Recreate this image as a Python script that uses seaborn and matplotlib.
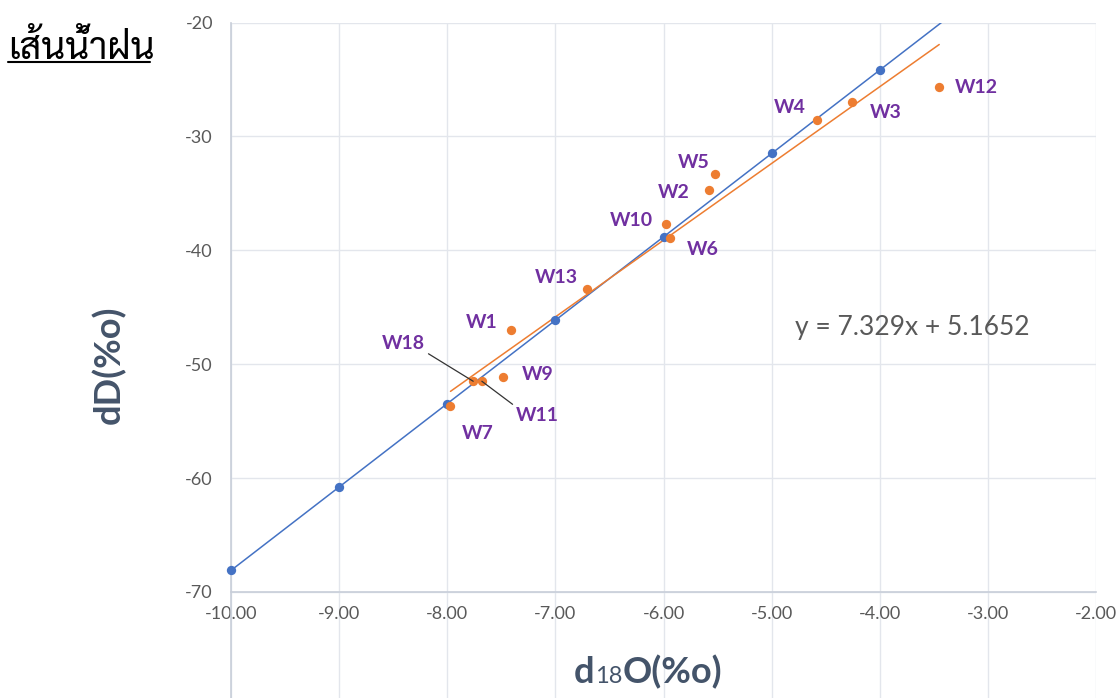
import numpy as np
import pandas as pd
import matplotlib
matplotlib.use("Agg")
import matplotlib.pyplot as plt
import seaborn as sns
from matplotlib import font_manager
from matplotlib.ft2font import FT2Font
from matplotlib.lines import Line2D
from matplotlib.offsetbox import TextArea, HPacker, AnnotationBbox

# ---------------- data ----------------
lmwl_x = [-10, -9, -8, -7, -6, -5, -4]
lmwl_y = [-68.1, -60.8, -53.5, -46.1, -38.8, -31.5, -24.2]

sample_names = ["W1", "W2", "W3", "W4", "W5", "W6", "W7", "W9", "W10", "W11", "W12", "W13", "W18"]
sample_x = [-7.41, -5.58, -4.26, -4.58, -5.52, -5.94, -7.97, -7.48, -5.98, -7.68, -3.45, -6.71, -7.76]
sample_y = [-47.0, -34.7, -27.0, -28.6, -33.3, -38.9, -53.7, -51.1, -37.7, -51.5, -25.7, -43.4, -51.5]

x_ticks = [-10, -9, -8, -7, -6, -5, -4, -3, -2]
y_ticks = [-70, -60, -50, -40, -30, -20]

equation = "y = 7.329x + 5.1652"
title = "เส้นน้ำฝน"

BLUE = "#4472C4"
ORANGE = "#ED7D31"
PURPLE = "#7030A0"
TICK = "#595959"
AXT = "#44546A"

# label offsets in pixels: (dx, dy, ha, relpos of leader line or None)
label_pos = {
    "W12": (16, 0, "left", None),
    "W3": (18, -10, "left", None),
    "W4": (-11, 13, "right", None),
    "W5": (-6, 11, "right", None),
    "W2": (-19, -3, "right", None),
    "W10": (-13, 4, "right", None),
    "W6": (17, -12, "left", None),
    "W13": (-9, 12, "right", None),
    "W1": (-13, 8, "right", None),
    "W9": (18, 2, "left", None),
    "W11": (34, -34, "left", (0, 1)),
    "W18": (-48, 38, "right", (1, 0)),
    "W7": (11, -27, "left", None),
}


def find_thai_font():
    # pick an installed font that has Thai glyphs, preferring looped designs
    found = set()
    for f in font_manager.fontManager.ttflist:
        try:
            if FT2Font(f.fname).get_char_index(0x0E40):
                found.add(f.name)
        except Exception:
            pass
    for name in ["Sarabun", "Noto Sans Thai Looped", "Noto Sans Thai", "Anuphan"]:
        if name in found:
            return [name]
    return sorted(found)[:1]


sns.set_style("white")
plt.rcParams['font.family'] = ['Lato', 'DejaVu Sans']
plt.rcParams['axes.unicode_minus'] = False

fig = plt.figure(figsize=(11.19, 6.98), dpi=100)
ax = fig.add_axes([231 / 1119, 0, (1096 - 231) / 1119, 1 - 22.5 / 698])
ax.set_xlim(-10, -2)
ax.set_ylim(-79.31, -20)

lmwl = pd.DataFrame({"x": lmwl_x, "y": lmwl_y})
samples = pd.DataFrame({"name": sample_names, "x": sample_x, "y": sample_y})

sns.regplot(data=lmwl, x="x", y="y", ax=ax, scatter=False, ci=None, truncate=False,
            line_kws=dict(color=BLUE, lw=1.1))
sns.regplot(data=samples, x="x", y="y", ax=ax, scatter=False, ci=None, truncate=True,
            line_kws=dict(color=ORANGE, lw=1.1))
sns.scatterplot(data=lmwl, x="x", y="y", ax=ax, color=BLUE, s=45, linewidth=0, zorder=3, clip_on=False)
sns.scatterplot(data=samples, x="x", y="y", ax=ax, color=ORANGE, s=45, linewidth=0, zorder=3)

for _, r in samples.iterrows():
    dx, dy, ha, rel = label_pos[r["name"]]
    arrow = None
    if rel is not None:
        arrow = dict(arrowstyle="-", color="#333333", lw=0.9, shrinkA=0, shrinkB=0, relpos=rel)
    ax.annotate(r["name"], (r["x"], r["y"]), xytext=(dx, dy), textcoords="offset pixels",
                ha=ha, va="center", color=PURPLE, fontsize=14, fontweight="bold",
                arrowprops=arrow)

ax.set_xticks(x_ticks)
ax.set_xticklabels([f"{v:.2f}" for v in x_ticks])
ax.set_yticks(y_ticks)
ax.tick_params(length=0, labelsize=13, labelcolor=TICK)
ax.tick_params(axis="y", pad=13)
ax.tick_params(axis="x", pad=10)
ax.grid(True, color="#E3E6EC", lw=1)
ax.spines["bottom"].set_position(("data", -70))
for s in ["bottom", "left"]:
    ax.spines[s].set_color("#C8CED9")
    ax.spines[s].set_linewidth(1.2)
for s in ["top", "right"]:
    ax.spines[s].set_visible(False)
ax.set_xlabel("")
ax.set_ylabel("")

ax.text((795 - 231) / 865, 0.548, equation, transform=ax.transAxes, fontsize=19,
        color=TICK, ha="left", va="center")

# axis titles
fig.text(109 / 1119, 1 - 365 / 698, "dD(%o)", rotation=90, ha="center", va="center",
         fontsize=26, fontweight="bold", color=AXT)
parts = HPacker(children=[
    TextArea("d", textprops=dict(fontsize=26, fontweight="bold", color=AXT)),
    TextArea("18", textprops=dict(fontsize=17, color=AXT)),
    TextArea("O(%o)", textprops=dict(fontsize=26, fontweight="bold", color=AXT)),
], align="baseline", pad=0, sep=0)
ab = AnnotationBbox(parts, (648 / 1119, 1 - 672 / 698), xycoords="figure fraction", frameon=False)
fig.add_artist(ab)

fig.text(8 / 1119, 1 - 59 / 698, title, ha="left", va="baseline", fontsize=27,
         family=(find_thai_font() + ['DejaVu Sans']), color="black")
fig.add_artist(Line2D([8 / 1119, 150 / 1119], [1 - 62 / 698] * 2, color="black", lw=1.5))

fig.savefig("out.png", dpi=100)
